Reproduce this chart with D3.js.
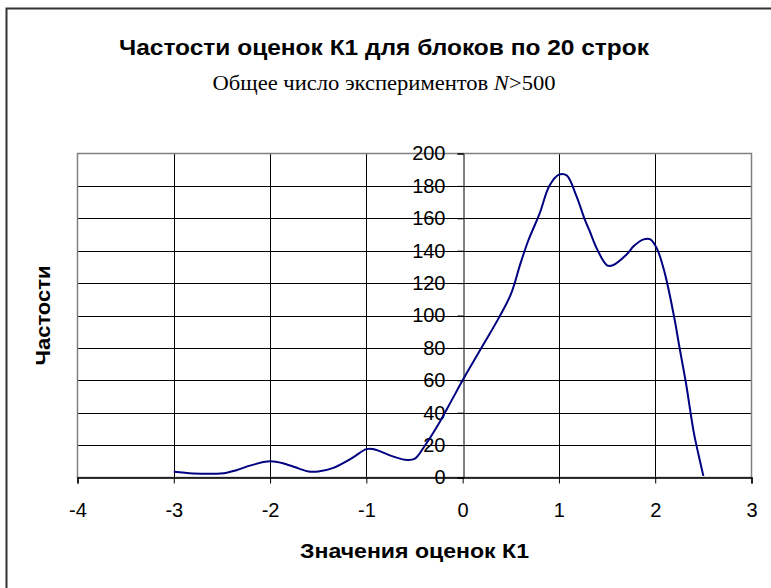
<!DOCTYPE html>
<html>
<head>
<meta charset="utf-8">
<script src="https://cdn.jsdelivr.net/npm/d3@7"></script>
<style>
  body { margin: 0; background: #fff; }
  svg { display: block; }
  .tick text { font-family: "Liberation Sans", Arial, sans-serif; }
</style>
</head>
<body>
<svg width="771" height="588"></svg>
<script>
// values
const k1Values = [-3, -2.8, -2.6, -2.45, -2.35, -2.2, -2, -1.85, -1.7, -1.6, -1.5, -1.35, -1.15, -1, -0.92,
  -0.75, -0.6, -0.5, -0.4, -0.25, -0.12, 0, 0.2, 0.38, 0.5, 0.6, 0.68, 0.8, 0.9, 1, 1.08, 1.18, 1.27,
  1.32, 1.4, 1.5, 1.56, 1.7, 1.78, 1.88, 1.95, 2.02, 2.1, 2.2, 2.25, 2.32, 2.4, 2.45, 2.5];
const frequencies = [3.5, 2.5, 2.3, 3, 4.5, 7.5, 10, 8.5, 5.5, 3.7, 3.7, 5.8, 12, 17.5, 17.5,
  13.5, 11, 11.5, 19, 33, 47, 60, 80.5, 99, 113, 132, 146, 163, 180, 187, 186.5, 174, 159,
  152, 140.5, 131, 131, 137.5, 143, 147, 147, 141, 126, 98, 81, 58, 28, 14, 1];
const xTicks = [-4, -3, -2, -1, 0, 1, 2, 3];
const yTicks = [0, 20, 40, 60, 80, 100, 120, 140, 160, 180, 200];

const titleText = "Частости оценок К1 для блоков по 20 строк";
const xTitle = "Значения оценок К1";
const yTitle = "Частости";

const svg = d3.select("svg");
const plot = { left: 77.5, top: 153.5, right: 751.5, bottom: 477.5 };
const sans = "'Liberation Sans', Arial, sans-serif";

const x = d3.scaleLinear().domain([-4, 3]).range([plot.left, plot.right]);
const y = d3.scaleLinear().domain([0, 200]).range([plot.bottom, plot.top]);

// chart area frame
svg.append("rect")
  .attr("x", 6.5).attr("y", 8.5)
  .attr("width", 800).attr("height", 600)
  .attr("fill", "#fff")
  .attr("stroke", "#333").attr("stroke-width", 2);

// titles
svg.append("text")
  .attr("x", 384).attr("y", 55)
  .attr("text-anchor", "middle")
  .attr("textLength", 530).attr("lengthAdjust", "spacingAndGlyphs")
  .style("font-family", sans)
  .style("font-weight", "bold").style("font-size", "22px")
  .text(titleText);

const sub = svg.append("text")
  .attr("x", 384).attr("y", 90)
  .attr("text-anchor", "middle")
  .attr("textLength", 343).attr("lengthAdjust", "spacingAndGlyphs")
  .style("font-family", "'Liberation Serif', 'Times New Roman', serif")
  .style("font-size", "22px");
sub.append("tspan").text("Общее число экспериментов ");
sub.append("tspan").style("font-style", "italic").text("N");
sub.append("tspan").text(">500");

// gridlines
svg.append("g")
  .selectAll("line")
  .data(yTicks.slice(1, -1))
  .join("line")
  .attr("x1", plot.left).attr("x2", plot.right)
  .attr("y1", d => Math.round(y(d)) + 0.5).attr("y2", d => Math.round(y(d)) + 0.5)
  .attr("stroke", "#000").attr("stroke-width", 1);

svg.append("g")
  .selectAll("line")
  .data(xTicks.slice(1, -1).filter(d => d !== 0))
  .join("line")
  .attr("x1", d => Math.round(x(d)) + 0.5).attr("x2", d => Math.round(x(d)) + 0.5)
  .attr("y1", plot.top).attr("y2", plot.bottom)
  .attr("stroke", "#000").attr("stroke-width", 1);

// plot area border
svg.append("rect")
  .attr("x", plot.left).attr("y", plot.top)
  .attr("width", plot.right - plot.left).attr("height", plot.bottom - plot.top)
  .attr("fill", "none").attr("stroke", "#808080").attr("stroke-width", 1.5);

// axes
const xAxis = svg.append("g")
  .attr("transform", `translate(0,${y(0)})`)
  .call(d3.axisBottom(x).tickValues(xTicks).tickFormat(d => String(d)).tickSize(6).tickPadding(19));
xAxis.select(".domain").attr("stroke", "#000").attr("stroke-width", 1.5);
xAxis.selectAll(".tick line").attr("stroke", "#000");
xAxis.selectAll(".tick text").style("font-size", "20px").attr("fill", "#000");

const yAxis = svg.append("g")
  .attr("transform", `translate(${Math.round(x(0)) + 0.5},0)`)
  .call(d3.axisLeft(y).tickValues(yTicks).tickSize(6).tickPadding(12));
yAxis.select(".domain").attr("stroke", "#000").attr("stroke-width", 1);
yAxis.selectAll(".tick line").attr("stroke", "#000");
yAxis.selectAll(".tick text").style("font-size", "20px").attr("fill", "#000");

// axis titles
svg.append("text")
  .attr("x", (plot.left + plot.right) / 2).attr("y", 558)
  .attr("text-anchor", "middle")
  .attr("textLength", 229).attr("lengthAdjust", "spacingAndGlyphs")
  .style("font-family", sans)
  .style("font-weight", "bold").style("font-size", "20px")
  .text(xTitle);

svg.append("text")
  .attr("transform", `translate(50,${(plot.top + plot.bottom) / 2}) rotate(-90)`)
  .attr("text-anchor", "middle")
  .attr("textLength", 100).attr("lengthAdjust", "spacingAndGlyphs")
  .style("font-family", sans)
  .style("font-weight", "bold").style("font-size", "20px")
  .text(yTitle);

// the curve
const points = k1Values.map((v, i) => [v, frequencies[i]]);
const line = d3.line()
  .x(d => x(d[0]))
  .y(d => y(d[1]))
  .curve(d3.curveCatmullRom.alpha(0.5));

svg.append("path")
  .datum(points)
  .attr("d", line)
  .attr("fill", "none")
  .attr("stroke", "#000080")
  .attr("stroke-width", 2);
</script>
</body>
</html>
